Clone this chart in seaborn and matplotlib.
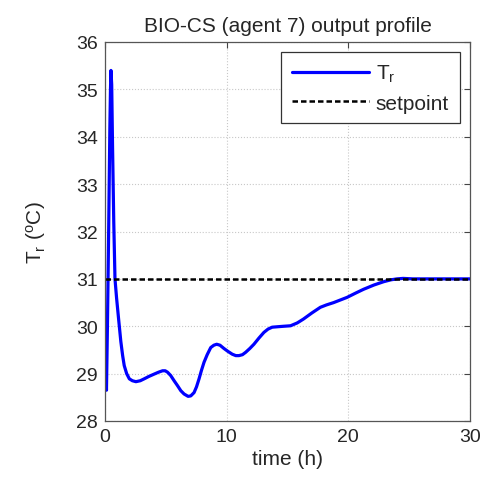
import matplotlib
matplotlib.use("Agg")
import matplotlib.pyplot as plt
import seaborn as sns

sns.set_style("white")
plt.rcParams['font.family'] = ['Liberation Sans', 'DejaVu Sans']
plt.rcParams['mathtext.default'] = 'regular'

time_h = [0, 0.12, 0.2, 0.3, 0.4, 0.45, 0.49, 0.55, 0.62, 0.72, 0.82, 0.95, 1.1, 1.3,
          1.45, 1.58, 1.78, 2.0, 2.25, 2.54, 2.9, 3.22, 3.6, 4.04, 4.4, 4.73, 4.95, 5.14,
          5.4, 5.68, 5.95, 6.23, 6.5, 6.83, 7.05, 7.32, 7.52, 7.73, 7.93, 8.14, 8.4,
          8.69, 8.95, 9.18, 9.45, 9.78, 10.1, 10.46, 10.75, 11.01, 11.3, 11.56, 11.9,
          12.24, 12.65, 13.06, 13.4, 13.74, 14.2, 14.7, 15.25, 15.8, 16.3, 17.0, 17.7,
          18.2, 18.8, 19.9, 20.6, 21.25, 22.1, 22.9, 23.5, 24.0, 24.5, 25.3, 30.0]
tr_vals = [29.8, 28.65, 30.0, 32.0, 34.2, 35.0, 35.4, 35.1, 33.8, 32.2, 31.0, 30.6, 30.2,
           29.68, 29.38, 29.17, 29.0, 28.89, 28.85, 28.83, 28.85, 28.89, 28.94, 28.99,
           29.03, 29.06, 29.06, 29.03, 28.96, 28.85, 28.75, 28.64, 28.57, 28.52, 28.53,
           28.6, 28.72, 28.89, 29.07, 29.24, 29.4, 29.55, 29.6, 29.62, 29.6, 29.53,
           29.47, 29.41, 29.38, 29.38, 29.4, 29.45, 29.53, 29.62, 29.75, 29.87, 29.94,
           29.98, 29.99, 30.0, 30.01, 30.07, 30.15, 30.28, 30.4, 30.45, 30.5, 30.61,
           30.7, 30.78, 30.87, 30.94, 30.98, 31.0, 31.01, 31.0, 31.0]
sp_time = [0, 30]
sp_vals = [31, 31]

title = "BIO-CS (agent 7) output profile"
xlabel = "time (h)"
ylabel = "T$_r$ ($^o$C)"

fig = plt.figure(figsize=(4.89, 4.81), dpi=100)
ax = fig.add_axes([105 / 489, 1 - 422 / 481, 365 / 489, 379 / 481])

sns.lineplot(x=time_h, y=tr_vals, ax=ax, color='#0000ff', lw=2.3, label='T$_r$',
             sort=False, estimator=None)
sns.lineplot(x=sp_time, y=sp_vals, ax=ax, color='black', lw=1.8, label='setpoint',
             estimator=None)
ax.lines[0].set_solid_joinstyle('round')
ax.lines[0].set_solid_capstyle('round')
ax.lines[1].set_dashes([2.2, 1.2])

ax.set_xlim(0, 30)
ax.set_ylim(28, 36)
ax.set_xticks([0, 10, 20, 30])
ax.set_yticks(range(28, 37))
ax.grid(True, color='#c8c8c8', linestyle=':', linewidth=0.8)
ax.tick_params(direction='in', top=True, right=True, labelsize=14, length=4,
               color='#444444', pad=5)
for s in ax.spines.values():
    s.set_color('#555555')
    s.set_linewidth(0.9)

ax.set_title(title, fontsize=15, pad=8)
ax.set_xlabel(xlabel, fontsize=15, labelpad=3)
ax.set_ylabel(ylabel, fontsize=15, labelpad=20)

leg = ax.legend(loc='upper right', fontsize=15, fancybox=False, framealpha=1,
                edgecolor='#333333', handlelength=3.7, handletextpad=0.35,
                borderpad=0.5, labelspacing=0.45, borderaxespad=0.5)
leg.get_frame().set_linewidth(0.9)

fig.savefig("out.png", dpi=100)
